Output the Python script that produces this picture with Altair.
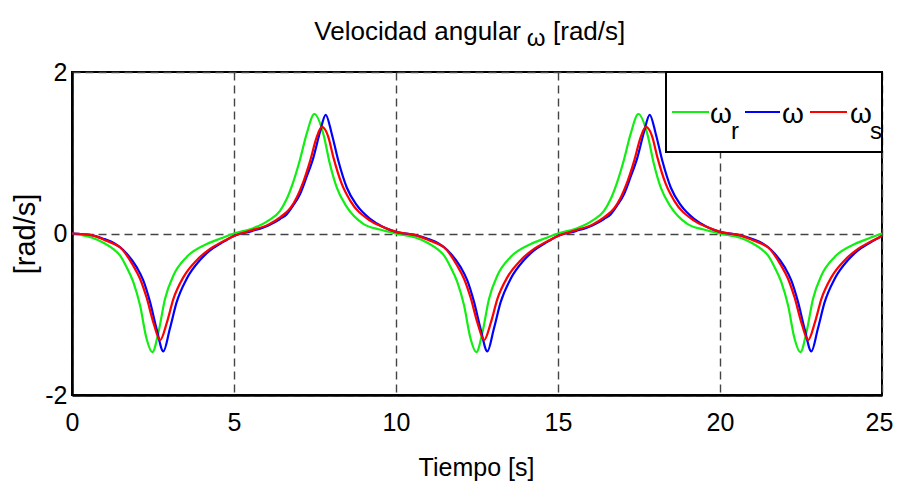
import altair as alt
import pandas as pd

# ---- data ----
t_r = [0, 0.6, 1.0, 1.3, 1.48, 1.69, 1.89, 2.10, 2.30, 2.48, 2.67, 2.87, 3.13, 3.54, 4.16, 4.6, 5.0,
       5.55, 6.06, 6.42, 6.63, 6.83, 7.04, 7.24, 7.48, 7.76, 7.96, 8.17, 8.48, 8.99, 9.5,
       10.0, 10.6, 11.0, 11.3, 11.48, 11.69, 11.89, 12.10, 12.30, 12.48, 12.67, 12.87, 13.13, 13.54, 14.16, 14.6, 15.0,
       15.55, 16.06, 16.42, 16.63, 16.83, 17.04, 17.24, 17.48, 17.76, 17.96, 18.17, 18.48, 18.99, 19.5,
       20.0, 20.6, 21.0, 21.3, 21.48, 21.69, 21.89, 22.10, 22.30, 22.48, 22.67, 22.87, 23.13, 23.54, 24.16, 24.6, 25.0]
w_r = [0, -0.05, -0.12, -0.2, -0.27, -0.42, -0.60, -0.89, -1.30, -1.47, -1.22, -0.81, -0.52, -0.29, -0.13, -0.06, 0.0,
       0.06, 0.16, 0.28, 0.43, 0.64, 0.92, 1.23, 1.48, 1.23, 0.86, 0.57, 0.33, 0.12, 0.05,
       0.0, -0.05, -0.12, -0.2, -0.27, -0.42, -0.60, -0.89, -1.30, -1.47, -1.22, -0.81, -0.52, -0.29, -0.13, -0.06, 0.0,
       0.06, 0.16, 0.28, 0.43, 0.64, 0.92, 1.23, 1.48, 1.23, 0.86, 0.57, 0.33, 0.12, 0.05,
       0.0, -0.05, -0.12, -0.2, -0.27, -0.42, -0.60, -0.89, -1.30, -1.47, -1.22, -0.81, -0.52, -0.29, -0.13, -0.06, 0.0]

t_w = [0, 0.6, 1.0, 1.3, 1.48, 1.69, 2.0, 2.20, 2.41, 2.61, 2.82, 3.02, 3.23, 3.54, 3.95, 4.26, 4.6, 5.0,
       5.55, 6.06, 6.42, 6.63, 6.83, 7.04, 7.24, 7.45, 7.65, 7.83, 8.02, 8.22, 8.48, 8.79, 9.2, 9.6,
       10.0, 10.6, 11.0, 11.3, 11.48, 11.69, 12.0, 12.20, 12.41, 12.61, 12.82, 13.02, 13.23, 13.54, 13.95, 14.26, 14.6, 15.0,
       15.55, 16.06, 16.42, 16.63, 16.83, 17.04, 17.24, 17.45, 17.65, 17.83, 18.02, 18.22, 18.48, 18.79, 19.2, 19.6,
       20.0, 20.6, 21.0, 21.3, 21.48, 21.69, 22.0, 22.20, 22.41, 22.61, 22.82, 23.02, 23.23, 23.54, 23.95, 24.26, 24.6, 25.0]
w_w = [0, -0.02, -0.07, -0.12, -0.17, -0.25, -0.42, -0.58, -0.85, -1.18, -1.46, -1.18, -0.85, -0.56, -0.33, -0.21, -0.12, -0.03,
       0.03, 0.1, 0.18, 0.24, 0.35, 0.49, 0.70, 0.94, 1.25, 1.47, 1.23, 0.9, 0.57, 0.35, 0.18, 0.08,
       0.02, -0.02, -0.07, -0.12, -0.17, -0.25, -0.42, -0.58, -0.85, -1.18, -1.46, -1.18, -0.85, -0.56, -0.33, -0.21, -0.12, -0.03,
       0.03, 0.1, 0.18, 0.24, 0.35, 0.49, 0.70, 0.94, 1.25, 1.47, 1.23, 0.9, 0.57, 0.35, 0.18, 0.08,
       0.02, -0.02, -0.07, -0.12, -0.17, -0.25, -0.42, -0.58, -0.85, -1.18, -1.46, -1.18, -0.85, -0.56, -0.33, -0.21, -0.12, -0.03]

t_s = [0, 0.6, 1.0, 1.3, 1.48, 1.69, 1.89, 2.10, 2.30, 2.51, 2.72, 2.93, 3.13, 3.44, 3.85, 4.26, 4.6, 5.0,
       5.55, 6.06, 6.42, 6.73, 6.94, 7.14, 7.35, 7.55, 7.71, 7.90, 8.07, 8.32, 8.58, 9.2, 9.6,
       10.0, 10.6, 11.0, 11.3, 11.48, 11.69, 11.89, 12.10, 12.30, 12.51, 12.72, 12.93, 13.13, 13.44, 13.85, 14.26, 14.6, 15.0,
       15.55, 16.06, 16.42, 16.73, 16.94, 17.14, 17.35, 17.55, 17.71, 17.90, 18.07, 18.32, 18.58, 19.2, 19.6,
       20.0, 20.6, 21.0, 21.3, 21.48, 21.69, 21.89, 22.10, 22.30, 22.51, 22.72, 22.93, 23.13, 23.44, 23.85, 24.26, 24.6, 25.0]
w_s = [0, -0.02, -0.08, -0.13, -0.17, -0.27, -0.40, -0.56, -0.79, -1.10, -1.32, -1.10, -0.81, -0.54, -0.33, -0.19, -0.11, -0.03,
       0.04, 0.11, 0.2, 0.31, 0.45, 0.64, 0.9, 1.19, 1.32, 1.21, 0.94, 0.62, 0.41, 0.16, 0.08,
       0.02, -0.02, -0.08, -0.13, -0.17, -0.27, -0.40, -0.56, -0.79, -1.10, -1.32, -1.10, -0.81, -0.54, -0.33, -0.19, -0.11, -0.03,
       0.04, 0.11, 0.2, 0.31, 0.45, 0.64, 0.9, 1.19, 1.32, 1.21, 0.94, 0.62, 0.41, 0.16, 0.08,
       0.02, -0.02, -0.08, -0.13, -0.17, -0.27, -0.40, -0.56, -0.79, -1.10, -1.32, -1.10, -0.81, -0.54, -0.33, -0.19, -0.11, -0.03]

x_ticks = [0, 5, 10, 15, 20, 25]
y_ticks = [-2, 0, 2]

FONT = "Liberation Sans, Arial, sans-serif"
GREEN, BLUE, RED = "#11ee11", "#0000ff", "#ff0000"

x_enc = alt.X("t:Q", scale=alt.Scale(domain=[0, 25], nice=False, zero=False),
              axis=alt.Axis(values=x_ticks, title="Tiempo [s]", grid=True,
                            titleX=404, titleY=80, titleAlign="center", titleBaseline="alphabetic",
                            titleFont=FONT, titleFontSize=25, titleFontWeight="normal",
                            labelFont=FONT, labelFontSize=25, labelPadding=15,
                            labelOffset={"condition": {"test": "datum.value == 25", "value": -3}, "value": 0},
                            labelFlush=False, ticks=False, domainColor="black", domainWidth=2.5))
y_enc = alt.Y("v:Q", scale=alt.Scale(domain=[-2, 2], nice=False),
              axis=alt.Axis(values=y_ticks, title="[rad/s]", grid=True,
                            labelExpr="'' + datum.value",
                            titleX=-47, titleY=161.5, titleAlign="center", titleBaseline="middle",
                            titleAngle=-90, titleFont=FONT, titleFontSize=29, titleFontWeight="normal",
                            labelFont=FONT, labelFontSize=25, labelPadding=5,
                            labelFlush=False, ticks=False, domainColor="black", domainWidth=2.5))

def series(t, v, color):
    df = pd.DataFrame({"t": t, "v": v})
    return alt.Chart(df).mark_line(interpolate="monotone", color=color, strokeWidth=2.2).encode(x=x_enc, y=y_enc)

lines = [series(t_r, w_r, GREEN), series(t_w, w_w, BLUE), series(t_s, w_s, RED)]

one = pd.DataFrame({"k": [0]})

def txt(x, y, s, size, align="center"):
    return alt.Chart(one).mark_text(font=FONT, fontSize=size, align=align, baseline="alphabetic",
                                    color="black").encode(x=alt.value(x), y=alt.value(y), text=alt.value(s))

def leg_line(x1, x2, color):
    return alt.Chart(one).mark_rule(color=color, strokeWidth=2.2).encode(
        x=alt.value(x1), x2=alt.value(x2), y=alt.value(40))

leg_box = alt.Chart(one).mark_rect(fill="white", stroke="black", strokeWidth=2).encode(
    x=alt.value(594), x2=alt.value(810), y=alt.value(0), y2=alt.value(80))

legend = [leg_box,
          leg_line(600, 637, GREEN), txt(649, 51, "ω", 28), txt(663, 67, "r", 24),
          leg_line(673, 708, BLUE), txt(721, 51, "ω", 28),
          leg_line(738, 775, RED), txt(789, 51, "ω", 28), txt(804, 67, "s", 24)]

title = [txt(449, -32, "Velocidad angular", 26, "right"),
         txt(464, -26, "ω", 24),
         txt(481, -32, "[rad/s]", 26, "left")]

chart = alt.layer(*lines, *legend, *title).properties(
    width=810, height=323,
    autosize=alt.AutoSizeParams(type="none"),
    padding={"left": 64, "top": 64, "right": 11, "bottom": 86},
).configure_view(stroke="black", strokeWidth=2).configure_axis(
    gridColor="#444", gridDash=[8, 5], gridWidth=1.4, gridOpacity=1, labelColor="black", titleColor="black"
)

chart.save("out.html", embed_options={"renderer": "svg", "actions": False})
